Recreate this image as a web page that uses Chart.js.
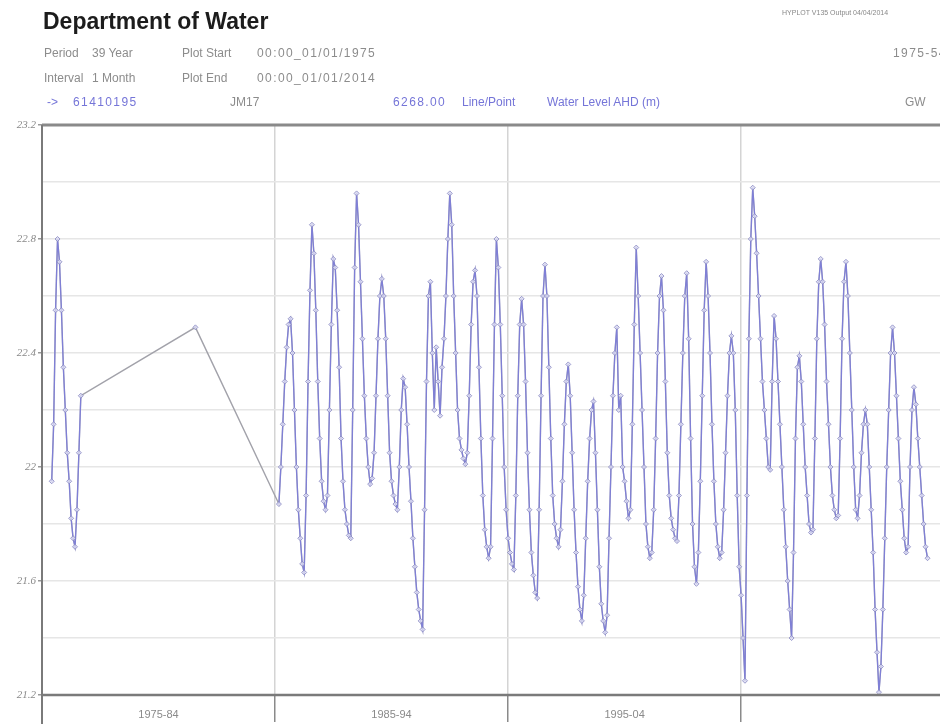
<!DOCTYPE html>
<html>
<head>
<meta charset="utf-8">
<script src="https://cdn.jsdelivr.net/npm/chart.js@4/dist/chart.umd.min.js"></script>
<style>
  html, body { margin: 0; padding: 0; background: #fff; }
  #wrap { position: relative; width: 940px; height: 724px; overflow: hidden; background: #fff; }
  #c { position: absolute; left: 0; top: 0; }
  .t { position: absolute; white-space: nowrap; font-family: "Liberation Sans", Arial, sans-serif; line-height: 1; }
  .g { color: #8c8c8c; font-size: 12px; }
  .b { color: #7575d8; font-size: 12px; }
  .w { letter-spacing: 1.4px; }
</style>
</head>
<body>
<div id="wrap">
  <canvas id="c" width="945" height="724"></canvas>
  <div class="t" style="left:43px;top:8px;font:bold 23px 'Liberation Sans',Arial,sans-serif;color:#1c1c1c;">Department of Water</div>
  <div class="t" style="left:782px;top:9px;font-size:7px;color:#888;">HYPLOT V135 Output 04/04/2014</div>

  <div class="t g" style="left:44px;top:47px;">Period</div>
  <div class="t g" style="left:92px;top:47px;">39 Year</div>
  <div class="t g" style="left:182px;top:47px;">Plot Start</div>
  <div class="t g w" style="left:257px;top:47px;">00:00_01/01/1975</div>
  <div class="t g w" style="left:893px;top:47px;">1975-54</div>

  <div class="t g" style="left:44px;top:72px;">Interval</div>
  <div class="t g" style="left:92px;top:72px;">1 Month</div>
  <div class="t g" style="left:182px;top:72px;">Plot End</div>
  <div class="t g w" style="left:257px;top:72px;">00:00_01/01/2014</div>

  <div class="t b" style="left:47px;top:96px;">-&gt;</div>
  <div class="t b w" style="left:73px;top:96px;">61410195</div>
  <div class="t g" style="left:230px;top:96px;">JM17</div>
  <div class="t b w" style="left:393px;top:96px;">6268.00</div>
  <div class="t b" style="left:462px;top:96px;">Line/Point</div>
  <div class="t b" style="left:547px;top:96px;">Water Level AHD (m)</div>
  <div class="t g" style="left:905px;top:96px;">GW</div>
</div>
<script>
// ---- data ----
const earlyDates  = ['1975-06','1975-07','1975-08','1975-09','1975-10','1975-11','1975-12',
                     '1976-01','1976-02','1976-03','1976-04','1976-05','1976-06','1976-07','1976-08','1976-09',
                     '1981-08'];
const earlyLevels = [21.95, 22.15, 22.55, 22.80, 22.72, 22.55, 22.35,
                     22.20, 22.05, 21.95, 21.82, 21.75, 21.72, 21.85, 22.05, 22.25,
                     22.49];

const monthlyStart = '1985-03';
const monthlyLevels = [
  /*1985 Mar-Dec*/ 21.87, 22.00, 22.15, 22.30, 22.42, 22.50, 22.52, 22.40, 22.20, 22.00,
  /*1986*/ 21.85, 21.75, 21.66, 21.63, 21.90, 22.30, 22.62, 22.85, 22.75, 22.55, 22.30, 22.10,
  /*1987*/ 21.95, 21.88, 21.85, 21.90, 22.20, 22.50, 22.73, 22.70, 22.55, 22.35, 22.10, 21.95,
  /*1988*/ 21.85, 21.80, 21.76, 21.75, 22.20, 22.70, 22.96, 22.85, 22.65, 22.45, 22.25, 22.10,
  /*1989*/ 22.00, 21.94, 21.96, 22.05, 22.25, 22.45, 22.60, 22.66, 22.60, 22.45, 22.25, 22.05,
  /*1990*/ 21.95, 21.90, 21.87, 21.85, 22.00, 22.20, 22.31, 22.28, 22.15, 22.00, 21.88, 21.75,
  /*1991*/ 21.65, 21.56, 21.50, 21.46, 21.43, 21.85, 22.30, 22.60, 22.65, 22.40, 22.20, 22.42,
  /*1992*/ 22.30, 22.18, 22.35, 22.45, 22.60, 22.80, 22.96, 22.85, 22.60, 22.40, 22.20, 22.10,
  /*1993*/ 22.06, 22.03, 22.01, 22.05, 22.25, 22.50, 22.65, 22.69, 22.60, 22.35, 22.10, 21.90,
  /*1994*/ 21.78, 21.72, 21.68, 21.72, 22.10, 22.50, 22.80, 22.70, 22.50, 22.25, 22.00, 21.85,
  /*1995*/ 21.75, 21.70, 21.66, 21.64, 21.90, 22.25, 22.50, 22.59, 22.50, 22.30, 22.05, 21.85,
  /*1996*/ 21.70, 21.62, 21.56, 21.54, 21.85, 22.25, 22.60, 22.71, 22.60, 22.35, 22.10, 21.90,
  /*1997*/ 21.80, 21.75, 21.72, 21.78, 21.95, 22.15, 22.30, 22.36, 22.25, 22.05, 21.85, 21.70,
  /*1998*/ 21.58, 21.50, 21.46, 21.55, 21.75, 21.95, 22.10, 22.20, 22.23, 22.05, 21.85, 21.65,
  /*1999*/ 21.52, 21.46, 21.42, 21.48, 21.75, 22.00, 22.25, 22.40, 22.49, 22.20, 22.25, 22.00,
  /*2000*/ 21.95, 21.88, 21.82, 21.85, 22.15, 22.50, 22.77, 22.60, 22.40, 22.20, 22.00, 21.80,
  /*2001*/ 21.72, 21.68, 21.70, 21.85, 22.10, 22.40, 22.60, 22.67, 22.55, 22.30, 22.05, 21.90,
  /*2002*/ 21.82, 21.78, 21.75, 21.74, 21.90, 22.15, 22.40, 22.60, 22.68, 22.45, 22.10, 21.80,
  /*2003*/ 21.65, 21.59, 21.70, 21.95, 22.25, 22.55, 22.72, 22.60, 22.40, 22.15, 21.95, 21.80,
  /*2004*/ 21.72, 21.68, 21.70, 21.85, 22.05, 22.25, 22.40, 22.46, 22.40, 22.20, 21.90, 21.65,
  /*2005*/ 21.55, 21.40, 21.25, 21.90, 22.45, 22.80, 22.98, 22.88, 22.75, 22.60, 22.45, 22.30,
  /*2006*/ 22.20, 22.10, 22.00, 21.99, 22.30, 22.53, 22.45, 22.30, 22.15, 22.00, 21.85, 21.72,
  /*2007*/ 21.60, 21.50, 21.40, 21.70, 22.10, 22.35, 22.39, 22.30, 22.15, 22.00, 21.90, 21.80,
  /*2008*/ 21.77, 21.78, 22.10, 22.45, 22.65, 22.73, 22.65, 22.50, 22.30, 22.15, 22.00, 21.90,
  /*2009*/ 21.85, 21.82, 21.83, 22.10, 22.45, 22.65, 22.72, 22.60, 22.40, 22.20, 22.00, 21.85,
  /*2010*/ 21.82, 21.90, 22.05, 22.15, 22.20, 22.15, 22.00, 21.85, 21.70, 21.50, 21.35, 21.21,
  /*2011*/ 21.30, 21.50, 21.75, 22.00, 22.20, 22.40, 22.49, 22.40, 22.25, 22.10, 21.95, 21.85,
  /*2012*/ 21.75, 21.70, 21.72, 22.00, 22.20, 22.28, 22.22, 22.10, 22.00, 21.90, 21.80, 21.72,
  /*2013*/ 21.68
];

const decadeLabels = { 1980: '1975-84', 1990: '1985-94', 2000: '1995-04' };
const yTickLabels = [21.2, 21.6, 22, 22.4, 22.8, 23.2];

// ---- build points ----
function ym(s) { const p = s.split('-'); return +p[0] + (+p[1] - 1) / 12; }
const points = [];
earlyDates.forEach((d, i) => points.push({ x: ym(d), y: earlyLevels[i] }));
const t0 = ym(monthlyStart);
monthlyLevels.forEach((v, i) => points.push({ x: t0 + i / 12, y: v }));

const frame = {
  id: 'frame',
  afterDraw(chart) {
    const { ctx, chartArea: a } = chart;
    ctx.save();
    ctx.strokeStyle = '#8a8a8a';
    ctx.lineWidth = 3;
    ctx.beginPath(); ctx.moveTo(a.left, a.top); ctx.lineTo(chart.width, a.top); ctx.stroke();
    ctx.strokeStyle = '#7a7a7a';
    ctx.lineWidth = 2.5;
    ctx.beginPath(); ctx.moveTo(a.left, a.bottom); ctx.lineTo(chart.width, a.bottom); ctx.stroke();
    ctx.lineWidth = 2;
    ctx.beginPath(); ctx.moveTo(a.left, a.top); ctx.lineTo(a.left, 724); ctx.stroke();
    ctx.restore();
  }
};

const chart = new Chart(document.getElementById('c'), {
  type: 'line',
  data: {
    datasets: [
      {
        data: points,
        borderColor: 'rgba(115,115,228,0.75)',
        borderWidth: 1.3,
        pointStyle: 'rectRot',
        pointRadius: 2.5,
        pointBorderWidth: 0.9,
        pointBorderColor: 'rgba(130,130,190,0.85)',
        pointBackgroundColor: 'rgba(220,220,242,0.8)',
        spanGaps: 0.3,
        tension: 0
      },
      {
        data: points,
        borderColor: '#a2a2aa',
        borderWidth: 1.4,
        pointRadius: 0,
        spanGaps: true,
        tension: 0
      }
    ]
  },
  options: {
    responsive: false,
    animation: false,
    events: [],
    layout: { padding: { top: 125, right: 0, left: 0, bottom: 0 } },
    plugins: { legend: { display: false }, tooltip: { enabled: false } },
    scales: {
      x: {
        type: 'linear',
        min: 1975,
        max: 2013.54,
        afterBuildTicks(s) { s.ticks = [1975, 1980, 1985, 1990, 1995, 2000, 2005, 2010].map(v => ({ value: v })); },
        afterFit(s) { s.height = 29; },
        border: { display: false },
        grid: {
          color: c => (c.tick && c.tick.value % 10 === 5 && c.tick.value > 1975) ? '#d4d4d4' : 'rgba(0,0,0,0)',
          tickColor: c => (c.tick && c.tick.value % 10 === 5 && c.tick.value > 1975) ? '#8a8a8a' : 'rgba(0,0,0,0)',
          tickLength: 27,
          lineWidth: 1.5,
          tickWidth: 1.5
        },
        ticks: {
          autoSkip: false,
          maxRotation: 0,
          padding: -14,
          color: '#8a8a8a',
          font: { family: "'Liberation Sans', Arial, sans-serif", size: 11 },
          callback: v => decadeLabels[v] || ''
        }
      },
      y: {
        min: 21.2,
        max: 23.2,
        afterFit(s) { s.width = 42; },
        border: { display: false },
        ticks: {
          stepSize: 0.2,
          padding: 2,
          color: '#8a8a8a',
          font: { family: "'Liberation Serif', serif", size: 11, style: 'italic' },
          callback: v => {
            const r = Math.round(v * 10) / 10;
            return yTickLabels.some(t => Math.abs(t - r) < 1e-6) ? String(r) : '';
          }
        },
        grid: {
          color: '#e6e6e6',
          lineWidth: 1.5,
          tickLength: 4,
          tickColor: c => {
            const r = Math.round(c.tick.value * 10) / 10;
            return yTickLabels.some(t => Math.abs(t - r) < 1e-6) ? '#999' : 'rgba(0,0,0,0)';
          }
        }
      }
    }
  },
  plugins: [frame]
});
</script>
</body>
</html>
